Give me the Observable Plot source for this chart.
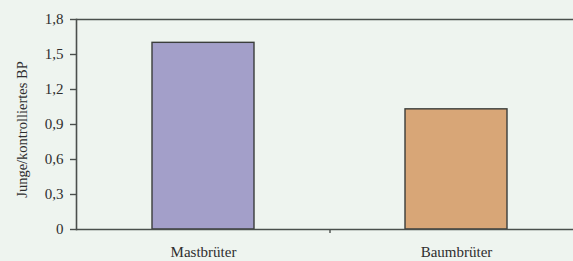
<!DOCTYPE html>
<html>
<head>
<meta charset="utf-8">
<script src="https://cdn.jsdelivr.net/npm/d3@7"></script>
<script src="https://cdn.jsdelivr.net/npm/@observablehq/plot@0.6"></script>
<style>
  html, body { margin: 0; padding: 0; background: #eef4ef; }
  #chart svg { display: block; }
  #chart g[aria-label="y-axis tick label"] { font-size: 15px; }
</style>
</head>
<body>
<div id="chart"></div>
<script>
const categories = ["Mastbrüter", "Baumbrüter"];
const values = [1.60, 1.03];
const colors = ["#a39fc9", "#d8a677"];
const yTicks = [0, 0.3, 0.6, 0.9, 1.2, 1.5, 1.8];
const yTickLabels = ["0", "0,3", "0,6", "0,9", "1,2", "1,5", "1,8"];
const yLabel = "Junge/kontrolliertes BP";

const data = categories.map((c, i) => ({category: c, value: values[i], color: colors[i]}));
const font = "'Liberation Serif', 'DejaVu Serif', serif";
const ink = "#4a4f4c";

const chart = Plot.plot({
  width: 573,
  height: 261,
  marginLeft: 76,
  marginRight: 0,
  marginTop: 19,
  marginBottom: 32,
  style: {background: "#eef4ef", fontFamily: font, fontSize: "15px", color: "#2e2e2e"},
  x: {domain: categories, range: [76, 583], paddingInner: 0.597, paddingOuter: 0.3, label: null},
  y: {domain: [0, 1.8], label: null},
  marks: [
    Plot.barY(data, {x: "category", y: "value", fill: "color", stroke: "#3a3d3b", strokeWidth: 1.4}),
    Plot.ruleY([0, 1.8], {stroke: ink, strokeWidth: 1.6}),
    Plot.frame({anchor: "left", stroke: ink, strokeWidth: 1.6}),
    Plot.ruleX([categories[0]], {x: d => d, dx: 126.5, y1: 0, y2: 0, insetBottom: -4, stroke: ink, strokeWidth: 1.4}),
    Plot.axisY({ticks: yTicks, tickFormat: (d) => yTickLabels[yTicks.indexOf(d)], tickSize: 6, tickPadding: 7, stroke: ink, strokeWidth: 1.4, fontSize: 15, label: null}),
    Plot.axisX({tickSize: 0, tickPadding: 17, fontSize: 15, label: null}),
    Plot.text([yLabel], {frameAnchor: "left", textAnchor: "middle", dx: -54, dy: 5, rotate: -90, fontSize: 14.5, fill: "#2e2e2e"})
  ]
});
document.getElementById("chart").appendChild(chart);
</script>
</body>
</html>
